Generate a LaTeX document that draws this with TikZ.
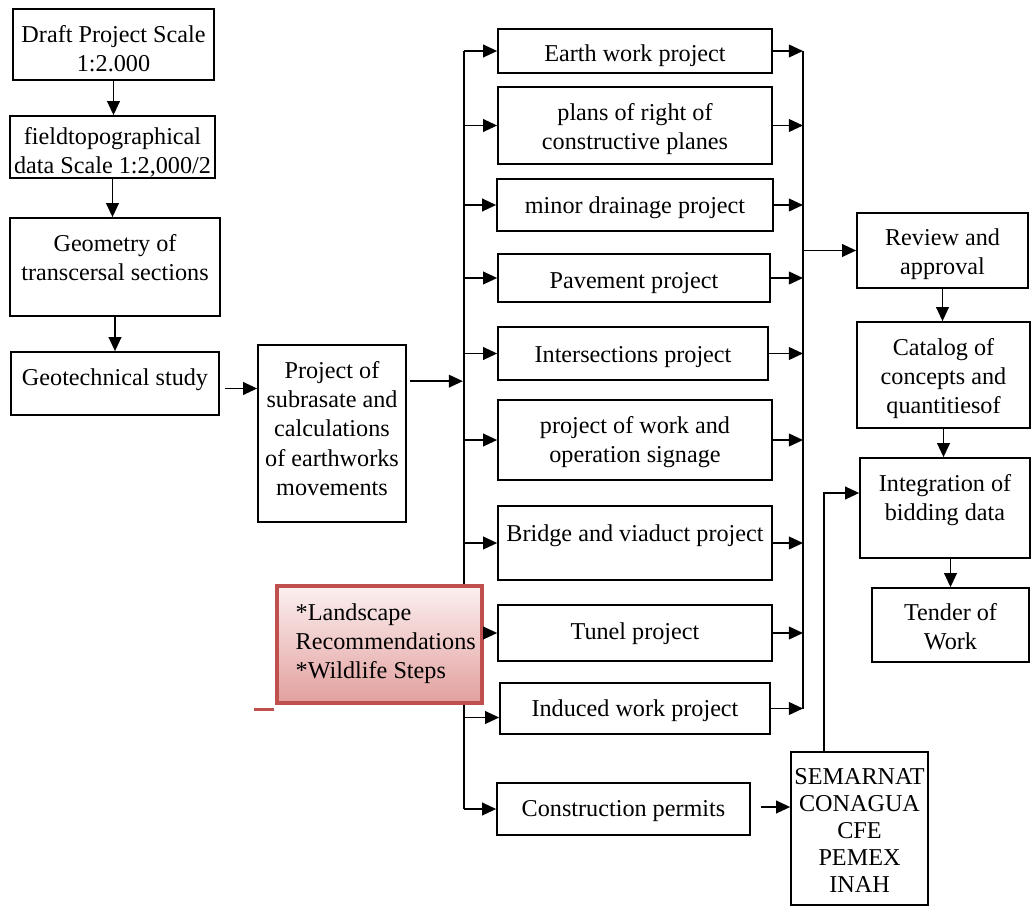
\documentclass[tikz,border=0pt]{standalone}
\usepackage{fontspec}
\setmainfont{Liberation Serif}
\usetikzlibrary{arrows.meta,calc}
\definecolor{redline}{RGB}{192,80,77}
\definecolor{pinktop}{RGB}{251,240,240}
\definecolor{pinkbot}{RGB}{226,160,158}
\begin{document}
\begin{tikzpicture}[x=0.025cm,y=-0.025cm,
  txt/.style={font=\fontsize{17.2}{20.6}\selectfont},
  rect/.style n args={4}{minimum width={(#3-#1)*0.025cm},minimum height={(#4-#2)*0.025cm},
     at={({0.5*(#1+#3)},{0.5*(#2+#4)})}},
  box/.style={draw,line width=1.2pt,inner sep=0pt},
  lbl/.style={align=center,txt,inner sep=0pt},
  tl/.style 2 args={label={[lbl,yshift=#1]center:{#2}}},
  arr/.style={line width=1.3pt,-{Triangle[length=10pt,width=9pt]}},
  ln/.style={line width=1.3pt}]
\useasboundingbox (0,0) rectangle (1031,907);

% left column
\node[box,rect={13}{9}{214}{80},tl={-2.8pt}{Draft Project Scale\\1:2.000}] (draft) {};
\node[box,rect={10}{116}{215}{178},tl={-3.5pt}{fieldtopographical\\data Scale 1:2,000/2}] (field) {};
\node[box,rect={10}{218}{220}{316},tl={7pt}{Geometry of\\transcersal sections}] (geom) {};
\node[box,rect={11}{352}{219}{415},tl={2.5pt}{Geotechnical study}] (geot) {};
\node[box,rect={258}{345}{406}{522},label={[lbl,font=\fontsize{17.2}{20.8}\selectfont,yshift=3.6pt]center:{Project of\\subrasate and\\calculations\\of earthworks\\movements}}] (proj) {};

% middle column
\node[box,rect={498}{29}{772}{73},tl={-3.5pt}{Earth work project}] (earth) {};
\node[box,rect={498}{87}{772}{164},tl={-2.8pt}{plans of right of\\constructive planes}] (plans) {};
\node[box,rect={497}{179}{773}{231},tl={-2.1pt}{minor drainage project}] (minor) {};
\node[box,rect={498}{254}{770}{302},tl={-3.5pt}{Pavement project}] (pave) {};
\node[box,rect={498}{327}{768}{380},tl={-2.8pt}{Intersections project}] (inter) {};
\node[box,rect={498}{400}{772}{480},tl={-1.4pt}{project of work and\\operation signage}] (sign) {};
\node[box,rect={498}{506}{772}{580},tl={5pt}{Bridge and viaduct project}] (bridge) {};
\node[box,rect={498}{605}{772}{661},tl={-0.7pt}{Tunel project}] (tunel) {};
\node[box,rect={500}{683}{770}{734},tl={-1.4pt}{Induced work project}] (induced) {};
\node[box,rect={497}{783}{750}{835},tl={-1.4pt}{Construction permits}] (cons) {};
\node[box,rect={791}{752}{928}{905},label={[lbl,font=\fontsize{17.2}{19.2}\selectfont,yshift=-1.4pt]center:{SEMARNAT\\CONAGUA\\CFE\\PEMEX\\INAH}}] (sem) {};

% right column
\node[box,rect={857}{213}{1028}{288},tl={-2.8pt}{Review and\\approval}] (review) {};
\node[box,rect={857}{322}{1030}{428},tl={-2.8pt}{Catalog of\\concepts and\\quantitiesof}] (catalog) {};
\node[box,rect={860}{458}{1030}{558},tl={5.5pt}{Integration of\\bidding data}] (integ) {};
\node[box,rect={872}{588}{1029}{662},tl={-1pt}{Tender of\\Work}] (tender) {};

% left column arrows
\draw[arr] (draft.south) -- (draft.south |- field.north);
\draw[arr] (field.south) -- (field.south |- geom.north);
\draw[arr] (geom.south) -- (geom.south |- geot.north);
\draw[arr] ($(geot.east)+(5,5)$) -- ($(geot.east -| proj.west)+(0,5)$);
\draw[arr] ($(proj.north east)+(3,37)$) -- ++(53,0);

% buses
\coordinate (bLt) at (464,51);
\coordinate (bLb) at (464,809);
\coordinate (bRt) at (803,51);
\coordinate (bRb) at (803,709);
\draw[ln] (bLt) -- (bLb);
\draw[ln] (bRt) -- (bRb);

\foreach \n in {earth,plans,minor,pave,inter,sign,bridge}{
  \draw[arr] (bLt |- \n.west) -- (\n.west);
}
\draw[arr] ($(bLt |- induced.west)+(0,9)$) -- ($(induced.west)+(0,9)$);
\draw[arr] (bLb) -- (cons.west);

\foreach \n in {earth,plans,minor,pave,inter,sign,bridge,tunel,induced}{
  \draw[arr] (\n.east) -- (\n.east -| bRt);
}

% landscape box (covers the bus)
\node[draw=redline,line width=2.2pt,top color=pinktop,bottom color=pinkbot,inner sep=0pt,rect={277}{586}{482}{703}] (land) {};
\node[txt,align=left,anchor=west,inner sep=0pt] (landtxt) at ($(land.west)+(20,-1)$) {*Landscape\\Recommendations\\*Wildlife Steps};
\draw[redline,line width=2.2pt] ($(land.south west)+(-21,5)$) -- ++(20,0);
\draw[arr] (land.east |- tunel.west) -- (tunel.west);

% right column arrows
\draw[arr] (bRt |- review.west) -- (review.west);
\draw[arr] (review.south) -- (review.south |- catalog.north);
\draw[arr] (catalog.south) -- (catalog.south |- integ.north);
\draw[arr] (tender.north |- integ.south) -- (tender.north);
\draw[arr] ($(cons.east)+(10,-2)$) -- ($(cons.east -| sem.west)+(0,-2)$);
\draw[arr] ($(sem.north west)+(34,0)$) |- ($(integ.west)+(0,-15)$);
\end{tikzpicture}
\end{document}
